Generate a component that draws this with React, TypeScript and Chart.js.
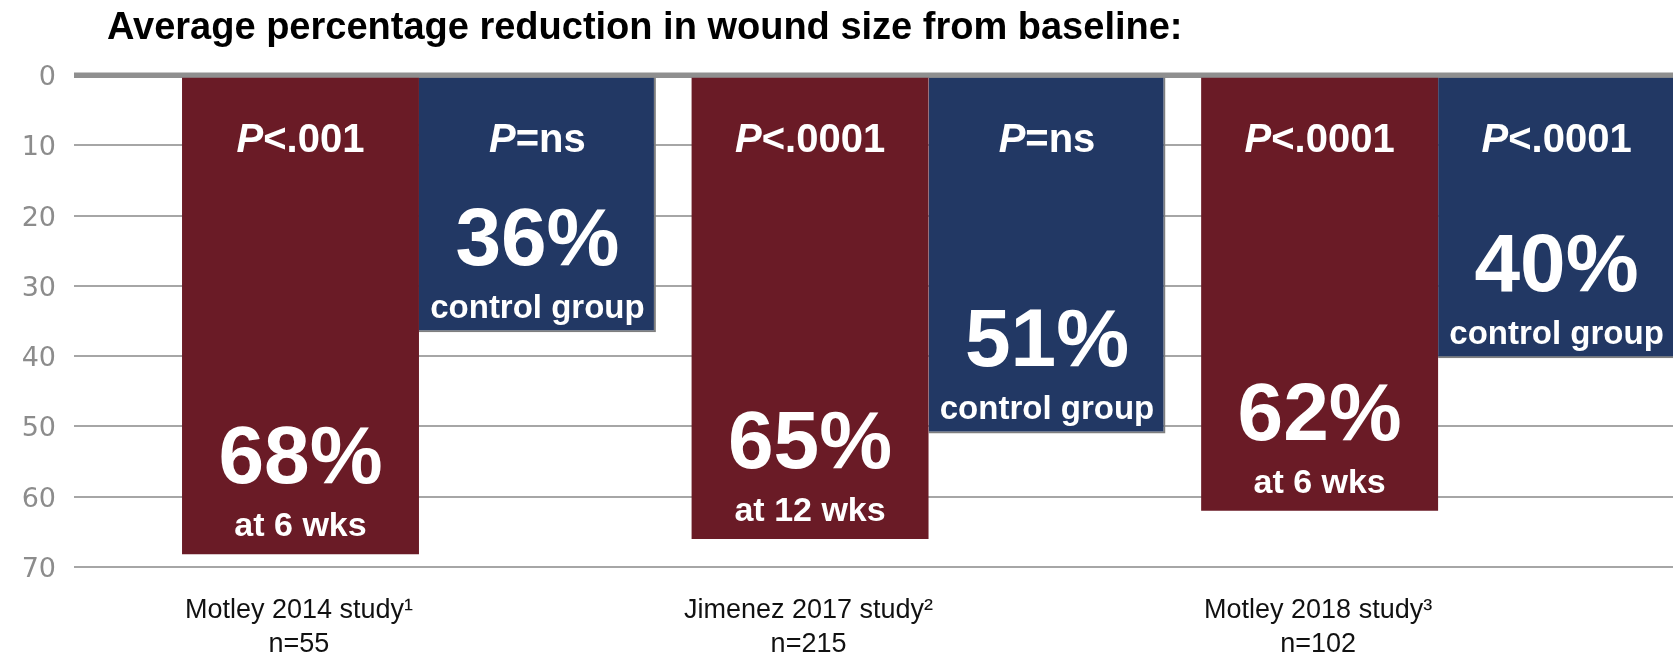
import React, { useEffect, useRef } from "react";
import { Chart, registerables } from "chart.js";

Chart.register(...registerables);

const TITLE = "Average percentage reduction in wound size from baseline:";
const studyNames = ["Motley 2014 study¹", "Jimenez 2017 study²", "Motley 2018 study³"];
const sampleSizes = ["n=55", "n=215", "n=102"];
const studyIndex = [0, 1, 2];
const treatmentValues = [68.2, 66, 62];
const controlValues = [36.6, 51, 40.3];
const treatmentP = ["<.001", "<.0001", "<.0001"];
const controlP = ["=ns", "=ns", "<.0001"];
const treatmentLabels = ["68%", "65%", "62%"];
const controlLabels = ["36%", "51%", "40%"];
const treatmentNotes = ["at 6 wks", "at 12 wks", "at 6 wks"];
const controlNotes = ["control group", "control group", "control group"];

const SANS = '"Liberation Sans", Arial, sans-serif';
const RED = "#6a1b26";
const BLUE = "#223864";

const overlayPlugin = {
  id: "overlay",
  afterDatasetsDraw(chart: any) {
    const ctx = chart.ctx;
    const area = chart.chartArea;
    const y0 = chart.scales.y.getPixelForValue(0);
    ctx.save();
    ctx.strokeStyle = "#8f8f8f";
    ctx.lineWidth = 5;
    ctx.beginPath();
    ctx.moveTo(area.left, y0);
    ctx.lineTo(area.right, y0);
    ctx.stroke();

    const groups = [
      { p: treatmentP, big: treatmentLabels, note: treatmentNotes, bigOff: 71, noteOff: 18, noteSize: 34 },
      { p: controlP, big: controlLabels, note: controlNotes, bigOff: 67, noteOff: 14, noteSize: 33 },
    ];
    ctx.fillStyle = "#ffffff";
    ctx.textBaseline = "alphabetic";
    groups.forEach((g, d) => {
      const meta = chart.getDatasetMeta(d);
      meta.data.forEach((el: any, i: number) => {
        const top = Math.min(el.base, el.y);
        const bottom = Math.max(el.base, el.y);
        const cx = el.x;
        ctx.font = `italic bold 40px ${SANS}`;
        const wP = ctx.measureText("P").width;
        ctx.font = `bold 40px ${SANS}`;
        const wR = ctx.measureText(g.p[i]).width;
        const x = cx - (wP + wR) / 2;
        ctx.textAlign = "left";
        ctx.font = `italic bold 40px ${SANS}`;
        ctx.fillText("P", x, top + 74);
        ctx.font = `bold 40px ${SANS}`;
        ctx.fillText(g.p[i], x + wP, top + 74);
        ctx.textAlign = "center";
        ctx.font = `bold 82px ${SANS}`;
        ctx.fillText(g.big[i], cx, bottom - g.bigOff);
        ctx.font = `bold ${g.noteSize}px ${SANS}`;
        ctx.fillText(g.note[i], cx, bottom - g.noteOff);
      });
    });
    ctx.restore();
  },
  afterDraw(chart: any) {
    const ctx = chart.ctx;
    ctx.save();
    ctx.fillStyle = "#000000";
    ctx.textAlign = "left";
    ctx.textBaseline = "alphabetic";
    ctx.font = `bold 38px ${SANS}`;
    ctx.fillText(TITLE, 107, 39);
    ctx.restore();
  },
};

export default function App() {
  const canvasRef = useRef<HTMLCanvasElement | null>(null);

  useEffect(() => {
    if (!canvasRef.current) return;
    const chart = new Chart(canvasRef.current, {
      type: "bar",
      data: {
        labels: studyIndex,
        datasets: [
          {
            label: "Treatment",
            data: treatmentValues,
            backgroundColor: RED,
            borderWidth: 0,
          },
          {
            label: "Control",
            data: controlValues,
            backgroundColor: BLUE,
            borderColor: "#7f7f7f",
            borderWidth: { top: 0, left: 0, right: 2, bottom: 2 },
            borderSkipped: false,
          },
        ],
      },
      options: {
        animation: false,
        responsive: false,
        maintainAspectRatio: false,
        devicePixelRatio: 1,
        layout: { padding: { top: 75, left: 0, right: 7, bottom: 0 } },
        datasets: { bar: { barPercentage: 1, categoryPercentage: 0.93 } },
        plugins: {
          legend: { display: false },
          tooltip: { enabled: false },
          title: { display: false },
        },
        scales: {
          x: {
            type: "linear",
            offset: false,
            min: -0.677,
            max: 2.461,
            grid: { display: false, drawTicks: false, offset: false },
            border: { display: false },
            afterBuildTicks: (s: any) => {
              s.ticks = studyIndex.map((v) => ({ value: v }));
            },
            afterFit: (s: any) => {
              s.height = 88;
            },
            ticks: {
              padding: 27,
              labelOffset: -120,
              autoSkip: false,
              maxRotation: 0,
              color: "#111111",
              font: { family: SANS, size: 27, lineHeight: 1.25 },
              callback: (_v: any, i: number) => [studyNames[i], sampleSizes[i]],
            },
          },
          y: {
            reverse: true,
            min: 0,
            max: 70,
            grid: {
              drawTicks: false,
              color: (c: any) => (c.tick && c.tick.value === 0 ? "#8f8f8f" : "#a6a6a6"),
              lineWidth: (c: any) => (c.tick && c.tick.value === 0 ? 5 : 2),
            },
            border: { display: false },
            afterFit: (s: any) => {
              s.width = 74;
            },
            ticks: {
              stepSize: 10,
              padding: 18,
              labelOffset: 3,
              color: "#8c8c8c",
              font: { family: '"DejaVu Sans", Verdana, sans-serif', size: 27 },
            },
          },
        },
      },
      plugins: [overlayPlugin],
    } as any);
    return () => chart.destroy();
  }, []);

  return (
    <div style={{ position: "absolute", left: 0, top: 0, width: "1680px", height: "655px", background: "#ffffff" }}>
      <canvas ref={canvasRef} width={1680} height={655} style={{ width: "1680px", height: "655px", display: "block" }} />
    </div>
  );
}
